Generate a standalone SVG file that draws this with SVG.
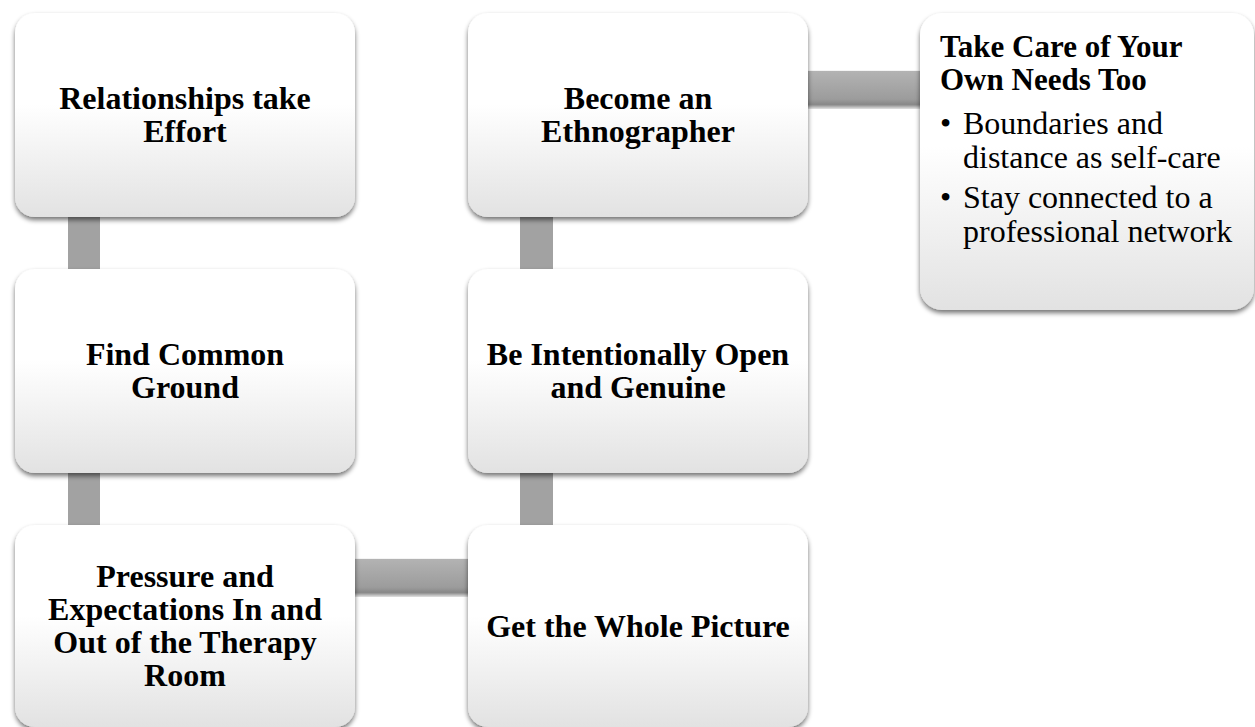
<svg xmlns="http://www.w3.org/2000/svg" width="1255" height="727" viewBox="0 0 1255 727">
  <defs>
    <linearGradient id="boxFill" x1="0" y1="0" x2="0" y2="1">
      <stop offset="0" stop-color="#ffffff"/>
      <stop offset="0.45" stop-color="#ffffff"/>
      <stop offset="1" stop-color="#e2e2e2"/>
    </linearGradient>
    <linearGradient id="barH" x1="0" y1="0" x2="0" y2="1">
      <stop offset="0" stop-color="#b3b3b3"/>
      <stop offset="0.85" stop-color="#9c9c9c"/>
      <stop offset="1" stop-color="#8a8a8a"/>
    </linearGradient>
    <filter id="shadow" x="-10%" y="-10%" width="120%" height="125%">
      <feGaussianBlur in="SourceAlpha" stdDeviation="2.5"/>
      <feOffset dy="3" result="blur"/>
      <feComponentTransfer>
        <feFuncA type="linear" slope="0.55"/>
      </feComponentTransfer>
      <feMerge>
        <feMergeNode/>
        <feMergeNode in="SourceGraphic"/>
      </feMerge>
    </filter>
  </defs>
  <style>
    .box { fill: url(#boxFill); filter: url(#shadow); }
    .barV { fill: #a2a2a2; }
    .barH { fill: url(#barH); filter: url(#shadow); }
    .title { font-family: "Liberation Serif", "Times New Roman", serif; font-weight: bold; font-size: 32px; fill: #000; text-anchor: middle; }
    .head { font-family: "Liberation Serif", "Times New Roman", serif; font-weight: bold; font-size: 31px; fill: #000; }
    .item { font-family: "Liberation Serif", "Times New Roman", serif; font-size: 32px; fill: #000; }
  </style>

  <rect width="1255" height="727" fill="#ffffff"/>

  <!-- connectors -->
  <g id="connectors">
    <rect class="barV" x="68" y="210" width="32" height="65"/>
    <rect class="barV" x="68" y="466" width="32" height="65"/>
    <rect class="barH" x="350" y="559" width="123" height="33"/>
    <rect class="barV" x="520" y="466" width="33" height="65"/>
    <rect class="barV" x="520" y="210" width="33" height="65"/>
    <rect class="barH" x="803" y="71" width="122" height="33"/>
  </g>

  <!-- left column -->
  <g id="node-relationships">
    <rect class="box" x="15" y="13" width="340" height="204" rx="20"/>
    <text class="title" x="185" y="109">Relationships take</text>
    <text class="title" x="185" y="142">Effort</text>
  </g>
  <g id="node-common-ground">
    <rect class="box" x="15" y="269" width="340" height="204" rx="20"/>
    <text class="title" x="185" y="365">Find Common</text>
    <text class="title" x="185" y="398">Ground</text>
  </g>
  <g id="node-pressure">
    <rect class="box" x="15" y="525" width="340" height="202" rx="20"/>
    <text class="title" x="185" y="587">Pressure and</text>
    <text class="title" x="185" y="620">Expectations In and</text>
    <text class="title" x="185" y="653">Out of the Therapy</text>
    <text class="title" x="185" y="686">Room</text>
  </g>

  <!-- middle column -->
  <g id="node-whole-picture">
    <rect class="box" x="468" y="525" width="340" height="202" rx="20"/>
    <text class="title" x="638" y="637">Get the Whole Picture</text>
  </g>
  <g id="node-open-genuine">
    <rect class="box" x="468" y="269" width="340" height="204" rx="20"/>
    <text class="title" x="638" y="365">Be Intentionally Open</text>
    <text class="title" x="638" y="398">and Genuine</text>
  </g>
  <g id="node-ethnographer">
    <rect class="box" x="468" y="13" width="340" height="204" rx="20"/>
    <text class="title" x="638" y="109">Become an</text>
    <text class="title" x="638" y="142">Ethnographer</text>
  </g>

  <!-- right: self-care -->
  <g id="node-self-care">
    <rect class="box" x="920" y="13" width="334" height="297" rx="22"/>
    <text class="head" x="940" y="57">Take Care of Your</text>
    <text class="head" x="940" y="90">Own Needs Too</text>
    <text class="item" x="940" y="134">•</text>
    <text class="item" x="963" y="134">Boundaries and</text>
    <text class="item" x="963" y="168">distance as self-care</text>
    <text class="item" x="940" y="208">•</text>
    <text class="item" x="963" y="208">Stay connected to a</text>
    <text class="item" x="963" y="242">professional network</text>
  </g>
</svg>
